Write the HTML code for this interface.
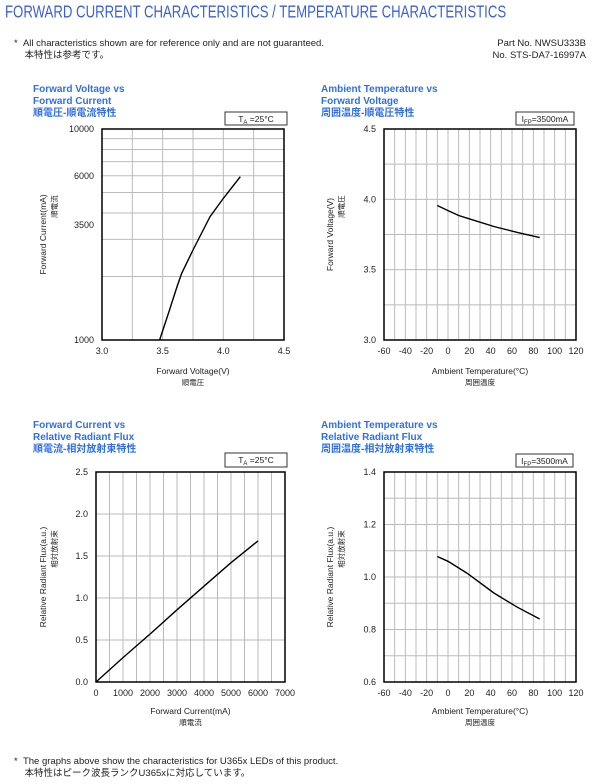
<!DOCTYPE html>
<html><head><meta charset="utf-8">
<style>
body{margin:0;width:600px;height:784px;background:#fff;font-family:"Liberation Sans","Noto Sans CJK JP",sans-serif;position:relative;overflow:hidden}
.a{position:absolute;white-space:nowrap}
.h{left:5px;top:2px;font-size:13.2px;color:#3a5fe0;transform:scaleY(1.3);transform-origin:0 0}
.n{font-size:9.5px;color:#222}
.t{font-size:10px;font-weight:bold;color:#2f6fe8;line-height:12px}
svg{position:absolute;left:0;top:0}
</style></head><body>
<div class="a h">FORWARD CURRENT CHARACTERISTICS / TEMPERATURE CHARACTERISTICS</div>
<div class="a n" style="left:14px;top:38px;line-height:12px">*&nbsp;&nbsp;All characteristics shown are for reference only and are not guaranteed.<br>&nbsp;&nbsp;&nbsp;&nbsp;本特性は参考です。</div>
<div class="a n" style="right:14px;top:38px;line-height:12px;text-align:right">Part No. NWSU333B<br>No. STS-DA7-16997A</div>
<div class="a t" style="left:33px;top:84px">Forward Voltage vs<br>Forward Current<br>順電圧-順電流特性</div>
<div class="a t" style="left:321px;top:84px">Ambient Temperature vs<br>Forward Voltage<br>周囲温度-順電圧特性</div>
<div class="a t" style="left:33px;top:420px">Forward Current vs<br>Relative Radiant Flux<br>順電流-相対放射束特性</div>
<div class="a t" style="left:321px;top:420px">Ambient Temperature vs<br>Relative Radiant Flux<br>周囲温度-相対放射束特性</div>
<div class="a n" style="left:14px;top:756px;line-height:12px">*&nbsp;&nbsp;The graphs above show the characteristics for U365x LEDs of this product.<br>&nbsp;&nbsp;&nbsp;&nbsp;本特性はピーク波長ランクU365xに対応しています。</div>
<svg id="s" width="600" height="784"></svg>
<script>
// Chart 1: Forward Voltage vs Forward Current (log y)
const c1Voltage=[3.475,3.55,3.62,3.657,3.75,3.89,4.0,4.14];
const c1Current=[1000,1350,1800,2070,2670,3840,4690,5940];
const c1XTicks=["3.0","3.5","4.0","4.5"];
const c1YTicks=["1000","3500","6000","10000"];
// Chart 2: Ambient Temperature vs Forward Voltage
const c2Temp=[-10,0,10,21,43,65,86];
const c2Voltage=[3.956,3.92,3.885,3.859,3.807,3.765,3.728];
const tempTicks=["-60","-40","-20","0","20","40","60","80","100","120"];
const c2YTicks=["3.0","3.5","4.0","4.5"];
// Chart 3: Forward Current vs Relative Radiant Flux
const c3Current=[0,1000,2000,3000,4000,5000,6000];
const c3Flux=[0,0.29,0.57,0.86,1.14,1.42,1.68];
const c3XTicks=["0","1000","2000","3000","4000","5000","6000","7000"];
const c3YTicks=["0.0","0.5","1.0","1.5","2.0","2.5"];
// Chart 4: Ambient Temperature vs Relative Radiant Flux
const c4Temp=[-10,0,17.7,43,65,86];
const c4Flux=[1.078,1.06,1.015,0.939,0.885,0.840];
const c4YTicks=["0.6","0.8","1.0","1.2","1.4"];

const NS="http://www.w3.org/2000/svg";
const svg=document.getElementById('s');
function mk(tag,at,txt){const e=document.createElementNS(NS,tag);for(const k in at)e.setAttribute(k,at[k]);if(txt!==undefined)e.textContent=txt;svg.appendChild(e);return e;}
function chart(o){
  const {x0,x1,y0,y1,xmin,xmax,ymin,ymax,logy,xgrid,ygrid}=o;
  const X=v=>x0+(v-xmin)/(xmax-xmin)*(x1-x0);
  const Y=logy?(v=>y1-(Math.log10(v)-Math.log10(ymin))/(Math.log10(ymax)-Math.log10(ymin))*(y1-y0)):(v=>y1-(v-ymin)/(ymax-ymin)*(y1-y0));
  for(const g of xgrid){const l=mk('line',{x1:X(g),x2:X(g),y1:y0,y2:y1,stroke:'#bbb','stroke-width':1});
    
    }
  for(const g of ygrid){const l=mk('line',{x1:x0,x2:x1,y1:Y(g),y2:Y(g),stroke:'#bbb','stroke-width':1});
    
    }
  const r=mk('rect',{x:x0,y:y0,width:x1-x0,height:y1-y0,fill:'none',stroke:'#000','stroke-width':1.5});
  
  
  for(const t of o.xticks){const tx=mk('text',{x:X(parseFloat(t)),y:y1+14,'font-size':9,'text-anchor':'middle',fill:'#222'},t);
    
    }
  for(const t of o.yticks){const tx=mk('text',{x:x0-8,y:Y(parseFloat(t))+3,'font-size':9,'text-anchor':'end',fill:'#222'},t);
    
    }
  const pts=o.xs.map((v,i)=>X(v).toFixed(1)+','+Y(o.ys[i]).toFixed(1)).join(' ');
  const pl=mk('polyline',{points:pts,fill:'none',stroke:'#000','stroke-width':1.4});
  
  
  const cx=(x0+x1)/2;
  const a=mk('text',{x:cx,y:o.xty,'font-size':8.5,'text-anchor':'middle',fill:'#222'},o.xt);
  
  
  const b=mk('text',{x:cx,y:o.xty+11,'font-size':7.5,'text-anchor':'middle',fill:'#222'},o.xtj);
  
  
  const cy=(y0+y1)/2;
  const c=mk('text',{x:0,y:0,'font-size':8.5,'text-anchor':'middle',fill:'#222',transform:`translate(${o.ytx},${cy}) rotate(-90)`},o.yt);
  
  
  const d=mk('text',{x:0,y:0,'font-size':7.5,'text-anchor':'middle',fill:'#222',transform:`translate(${o.ytx+11},${cy-28}) rotate(-90)`},o.ytj);
  
  
  const bx=mk('rect',{x:o.box[0],y:o.box[1],width:o.box[2],height:o.box[3],fill:'#fff',stroke:'#333','stroke-width':1});
  
  
  const bt=mk('text',{x:o.box[0]+o.box[2]/2,y:o.box[1]+10,'font-size':8.5,'text-anchor':'middle',fill:'#222'});
  
  
  bt.innerHTML=o.boxHtml;
}
function range(a,b,s){const r=[];for(let v=a;v<=b+1e-9;v+=s)r.push(+v.toFixed(4));return r;}
const TA='T<tspan font-size="6" dy="2">A</tspan><tspan dy="-2"> =25°C</tspan>';
const IF='I<tspan font-size="6" dy="2">FP</tspan><tspan dy="-2">=3500mA</tspan>';
chart({id:'chart1',x0:102,x1:284,y0:129,y1:340,xmin:3,xmax:4.5,ymin:1000,ymax:10000,logy:true,
 xgrid:range(3.25,4.25,0.25),ygrid:[2000,3000,4000,5000,6000,7000,8000,9000],
 xticks:c1XTicks,yticks:c1YTicks,xs:c1Voltage,ys:c1Current,
 xt:'Forward Voltage(V)',xtj:'順電圧',xty:374,yt:'Forward Current(mA)',ytj:'順電流',ytx:46,
 box:[225,112,62,13],boxHtml:TA});
chart({id:'chart2',x0:384,x1:576,y0:129,y1:340,xmin:-60,xmax:120,ymin:3,ymax:4.5,
 xgrid:range(-50,110,10),ygrid:range(3.25,4.25,0.25),
 xticks:tempTicks,yticks:c2YTicks,xs:c2Temp,ys:c2Voltage,
 xt:'Ambient Temperature(°C)',xtj:'周囲温度',xty:374,yt:'Forward Voltage(V)',ytj:'順電圧',ytx:333,
 box:[516,112,58,13],boxHtml:IF});
chart({id:'chart3',x0:96,x1:285,y0:472,y1:682,xmin:0,xmax:7000,ymin:0,ymax:2.5,
 xgrid:range(500,6500,500),ygrid:range(0.5,2,0.5),
 xticks:c3XTicks,yticks:c3YTicks,xs:c3Current,ys:c3Flux,
 xt:'Forward Current(mA)',xtj:'順電流',xty:714,yt:'Relative Radiant Flux(a.u.)',ytj:'相対放射束',ytx:46,
 box:[225,453,62,14],boxHtml:TA});
chart({id:'chart4',x0:384,x1:576,y0:472,y1:682,xmin:-60,xmax:120,ymin:0.6,ymax:1.4,
 xgrid:range(-50,110,10),ygrid:range(0.7,1.3,0.1),
 xticks:tempTicks,yticks:c4YTicks,xs:c4Temp,ys:c4Flux,
 xt:'Ambient Temperature(°C)',xtj:'周囲温度',xty:714,yt:'Relative Radiant Flux(a.u.)',ytj:'相対放射束',ytx:333,
 box:[516,454,57,13],boxHtml:IF});
</script>
</body></html>
